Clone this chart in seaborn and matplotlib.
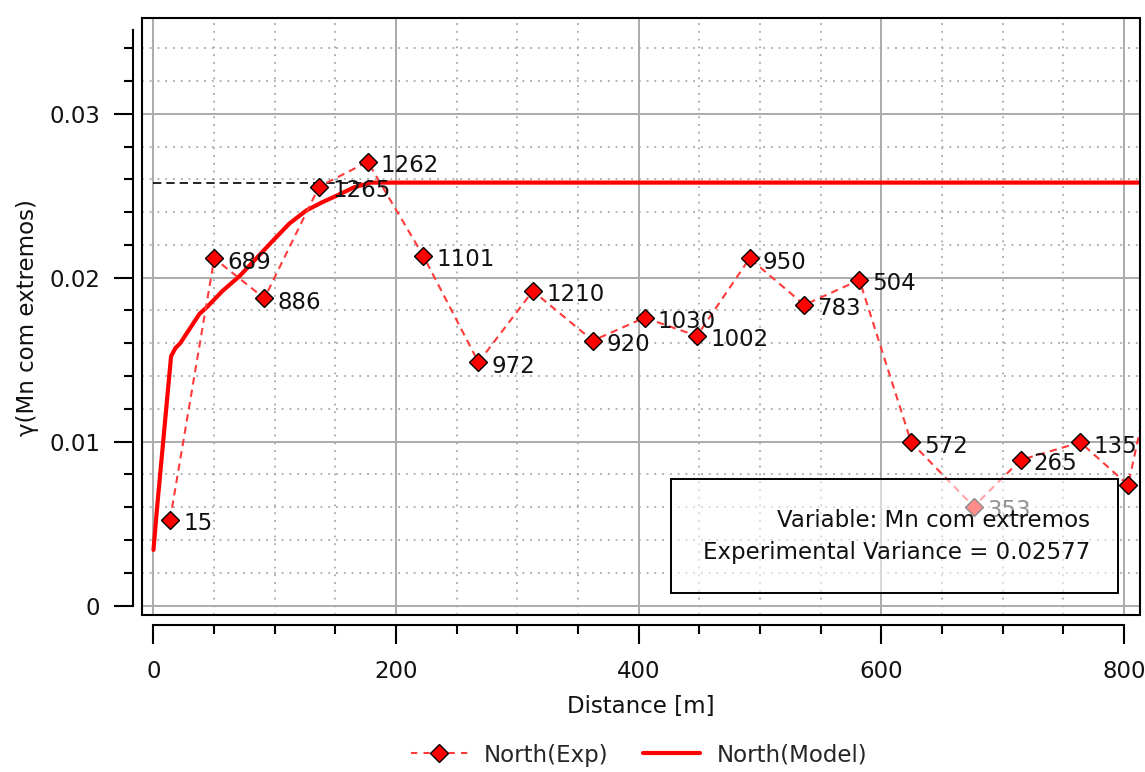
import matplotlib
matplotlib.use("Agg")
import matplotlib.pyplot as plt
from matplotlib.lines import Line2D
from matplotlib.patches import Rectangle
from matplotlib.ticker import MultipleLocator
import pandas as pd
import seaborn as sns

# Experimental semivariogram, North direction
exp_lag = [13.6, 50.1, 91.4, 136.5, 176.6, 222.5, 267.9, 312.7, 362.2, 404.8,
           448.0, 491.4, 536.5, 581.9, 624.6, 676.1, 714.7, 764.0, 803.4, 848.0]
exp_gamma = [0.00522, 0.02118, 0.01874, 0.02555, 0.02707, 0.02132, 0.01484, 0.01919,
             0.01616, 0.01756, 0.01645, 0.02118, 0.01834, 0.01986, 0.00996, 0.00604,
             0.00888, 0.00996, 0.00736, 0.0226]
exp_pairs = [15, 689, 886, 1265, 1262, 1101, 972, 1210, 920, 1030,
             1002, 950, 783, 504, 572, 353, 265, 135]

# Fitted model, North direction
model_lag = [0, 3, 8, 13, 14.5, 18, 22, 30, 38, 44, 57, 71, 85, 99, 112,
             126, 139, 151, 165, 179, 190, 850]
model_gamma = [0.0034, 0.0060, 0.0100, 0.0140, 0.0152, 0.0157, 0.0160, 0.0169,
               0.0178, 0.0182, 0.0192, 0.0201, 0.0212, 0.0223, 0.0233, 0.0241,
               0.0246, 0.0250, 0.0255, 0.0258, 0.0258, 0.0258]

variance = 0.02577
variable_name = "Mn com extremos"

x_ticks = [0, 200, 400, 600, 800]
y_ticks = [0, 0.01, 0.02, 0.03]
y_tick_labels = ["0", "0.01", "0.02", "0.03"]

sns.set_style("white")
plt.rcParams["font.family"] = ["DejaVu Sans"]
plt.rcParams["font.size"] = 16.5
TXT = "#111111"
FS = 16.5

fig = plt.figure(figsize=(11.45, 7.72), dpi=100)
ax = fig.add_axes([0.12376, 0.20337, 0.87188, 0.77293])
ax.set_xlim(-9.7, 813.2)
ax.set_ylim(-0.00057, 0.03582)

# ticks and grid
ax.set_xticks(x_ticks)
ax.xaxis.set_minor_locator(MultipleLocator(50))
ax.set_yticks(y_ticks, labels=y_tick_labels)
ax.yaxis.set_minor_locator(MultipleLocator(0.002))
ax.grid(which="major", color="#ababab", lw=1.4)
ax.grid(which="minor", color="#a8a8a8", lw=1.3, linestyle=(0, (1, 3.3)))
ax.set_axisbelow(True)

ax.tick_params(which="both", bottom=True, left=True, top=False, right=False,
               direction="out", color="black")
ax.tick_params(which="major", length=13.7, width=1.5, labelsize=FS, labelcolor=TXT)
ax.tick_params(which="minor", length=6.5, width=1.5)
ax.tick_params(axis="x", which="major", pad=11.5)
ax.tick_params(axis="y", which="major", pad=10)

# detached axis lines plus a frame around the data area
for side in ("top", "right"):
    ax.spines[side].set_visible(False)
ax.spines["left"].set_position(("outward", 6.05))
ax.spines["left"].set_bounds(0, 0.0351)
ax.spines["bottom"].set_position(("outward", 7.2))
ax.spines["bottom"].set_bounds(x_ticks[0], x_ticks[-1])
for side in ("left", "bottom"):
    ax.spines[side].set_linewidth(1.5)
    ax.spines[side].set_color("black")
ax.add_patch(Rectangle((0, 0), 1, 1, transform=ax.transAxes, fill=False,
                       ec="black", lw=1.5, zorder=8, clip_on=False))

# experimental variance (sill reference)
ax.hlines(variance, x_ticks[0], x_ticks[-1], colors="black",
          linestyles=(0, (5, 3)), lw=1.2, zorder=2)

# model curve
sns.lineplot(x=model_lag, y=model_gamma, ax=ax, color="red", lw=3,
             sort=False, estimator=None, zorder=3)

# experimental points
exp_df = pd.DataFrame({"lag": exp_lag, "gamma": exp_gamma})
sns.lineplot(data=exp_df, x="lag", y="gamma", ax=ax, color="#ff3a3a", lw=1.5,
             linestyle=(0, (3.5, 2.5)), marker="D", markersize=9.5,
             markerfacecolor="red", markeredgecolor="black", markeredgewidth=1,
             sort=False, estimator=None, zorder=4)

for lag, g, n in zip(exp_lag, exp_gamma, exp_pairs):
    ax.annotate(str(n), (lag, g), xytext=(9.5, -7.5), textcoords="offset points",
                ha="left", va="baseline", fontsize=FS, color=TXT, zorder=5)

# info box
ax.add_patch(Rectangle((0.5297, 0.0374), 0.4483, 0.1905, transform=ax.transAxes,
                       facecolor=(1, 1, 1, 0.55), edgecolor="black", lw=1.4, zorder=6))
ax.text(0.9499, 0.158, f"Variable: {variable_name}", transform=ax.transAxes,
        ha="right", va="center", fontsize=FS, color=TXT, zorder=7)
ax.text(0.9499, 0.1044, f"Experimental Variance = {variance}", transform=ax.transAxes,
        ha="right", va="center", fontsize=FS, color=TXT, zorder=7)

ax.set_xlabel("Distance [m]", fontsize=FS, color=TXT, labelpad=8.5)
ax.set_ylabel("")
fig.text(28 / 1145, 1 - 318 / 772, f"γ({variable_name})", rotation=90,
         ha="center", va="center", fontsize=FS, color=TXT)

handles = [
    Line2D([], [], color="#ff3a3a", lw=1.5, linestyle=(0, (3, 3)), marker="D",
           markersize=9.5, markerfacecolor="red", markeredgecolor="black",
           markeredgewidth=1),
    Line2D([], [], color="red", lw=3),
]
fig.legend(handles, ["North(Exp)", "North(Model)"], loc="center",
           bbox_to_anchor=(0.558, 0.022), ncol=2, frameon=False, fontsize=FS,
           handlelength=2.5, handletextpad=0.7, columnspacing=1.5)

fig.savefig("out.png", dpi=100)
